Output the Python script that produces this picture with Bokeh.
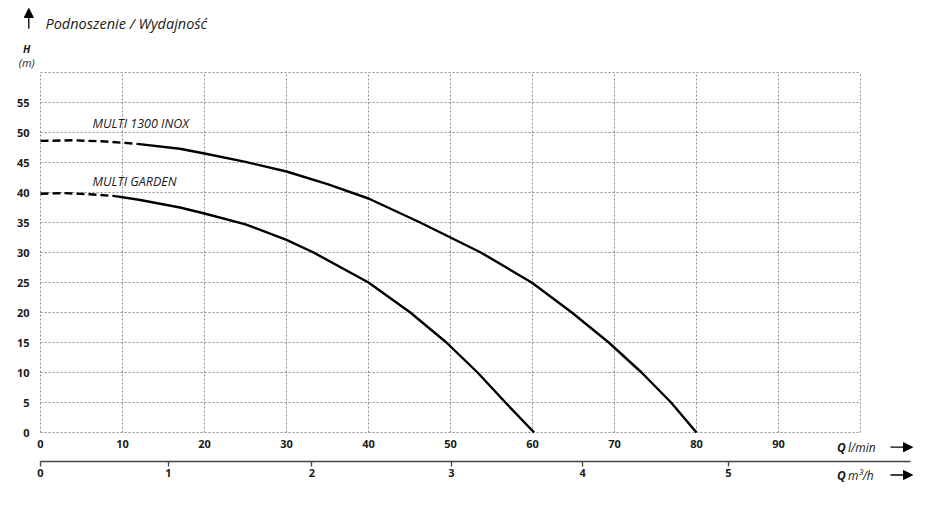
from bokeh.plotting import figure
from bokeh.models import Range1d, LinearAxis, FixedTicker, Label, Arrow, NormalHead
from bokeh.embed import file_html
from bokeh.resources import INLINE

# ---------------- data ----------------
TITLE = "Podnoszenie / Wydajność"
Y_TICKS = [0, 5, 10, 15, 20, 25, 30, 35, 40, 45, 50, 55]
X_TICKS = [0, 10, 20, 30, 40, 50, 60, 70, 80, 90]
GRID_X = [0, 10, 20, 30, 40, 50, 60, 70, 80, 90, 100]
GRID_Y = [0, 5, 10, 15, 20, 25, 30, 35, 40, 45, 50, 55, 60]
M3H_LABELS = ["0", "1", "2", "3", "4", "5"]
M3H_AT_LPM = [0, 15.6, 33.1, 50.1, 66.1, 83.9]   # where each m3/h tick sits on the l/min scale

INOX_NAME = "MULTI 1300 INOX"
INOX_Q_EXTRAP = [0, 4, 8, 11.8]
INOX_H_EXTRAP = [48.6, 48.7, 48.5, 48.1]
INOX_Q = [11.8, 17, 20, 25, 30, 35, 40, 46.3, 53.7, 59.9, 64.8, 69.3, 73.3, 76.9, 80]
INOX_H = [48.1, 47.3, 46.5, 45.1, 43.5, 41.4, 39.0, 35, 30, 25, 20, 15, 10, 5, 0]

GARDEN_NAME = "MULTI GARDEN"
GARDEN_Q_EXTRAP = [0, 3, 6, 9.1]
GARDEN_H_EXTRAP = [39.8, 39.9, 39.7, 39.4]
GARDEN_Q = [9.1, 12, 17, 20, 25, 30, 33.3, 40, 45.1, 49.5, 53.3, 56.7, 60.2]
GARDEN_H = [39.4, 38.8, 37.5, 36.5, 34.7, 32.1, 30, 25, 20, 15, 10, 5, 0]

# ---------------- layout (page pixels) ----------------
W, H = 920, 500
X0_PX, Y0_PX = 40, 432        # where Q=0, H=0 sits
PX_PER_Q, PX_PER_H = 8.2, 6.0


def qx(px):
    return (px - X0_PX) / PX_PER_Q


def hy(py):
    return (Y0_PX - py) / PX_PER_H


FONT = "Open Sans"
TXT = "#1a1a1a"
GRID_C = "#8f8f8f"

p = figure(width=W, height=H,
           x_range=Range1d(qx(0), qx(W)), y_range=Range1d(hy(H), hy(0)),
           x_axis_type=None, y_axis_type=None,
           output_backend="svg", toolbar_location=None,
           min_border=0, min_border_left=0, min_border_right=0,
           min_border_top=0, min_border_bottom=0)
p.outline_line_color = None
p.background_fill_color = "white"
p.border_fill_color = "white"

# dotted grid box (0..100 x 0..60)
xmax = GRID_X[-1]
ymax = GRID_Y[-1]
p.segment(x0=GRID_X, y0=[0] * len(GRID_X), x1=GRID_X, y1=[ymax] * len(GRID_X),
          line_color=GRID_C, line_width=1, line_dash="2 2")
p.segment(x0=[0] * len(GRID_Y), y0=GRID_Y, x1=[xmax] * len(GRID_Y), y1=GRID_Y,
          line_color=GRID_C, line_width=1, line_dash="2 2")

# curves
for q, h, dash in ((INOX_Q_EXTRAP, INOX_H_EXTRAP, "8 4"), (INOX_Q, INOX_H, "solid"),
                   (GARDEN_Q_EXTRAP, GARDEN_H_EXTRAP, "8 4"), (GARDEN_Q, GARDEN_H, "solid")):
    p.line(q, h, line_color="black", line_width=2.4, line_dash=dash, line_join="round")

# axes (drawn at fixed data locations)
yax = LinearAxis(ticker=FixedTicker(ticks=Y_TICKS), fixed_location=0,
                 axis_line_color=None, major_tick_line_color=None, minor_tick_line_color=None,
                 major_tick_out=0, major_tick_in=0, major_label_standoff=11,
                 major_label_text_font=FONT, major_label_text_font_style="bold",
                 major_label_text_font_size="11px", major_label_text_color=TXT)
p.add_layout(yax, "left")

xax = LinearAxis(ticker=FixedTicker(ticks=X_TICKS), fixed_location=0,
                 axis_line_color=None, major_tick_line_color=None, minor_tick_line_color=None,
                 major_tick_out=0, major_tick_in=0, major_label_standoff=7,
                 major_label_text_font=FONT, major_label_text_font_style="bold",
                 major_label_text_font_size="11px", major_label_text_color=TXT)
p.add_layout(xax, "below")

m3ax = LinearAxis(ticker=FixedTicker(ticks=M3H_AT_LPM), fixed_location=hy(460.7),
                  bounds=(0, qx(910)),
                  major_label_overrides={t: l for t, l in zip(M3H_AT_LPM, M3H_LABELS)},
                  axis_line_color="#444444", axis_line_width=1.3,
                  major_tick_line_color="#444444", major_tick_line_width=1.3,
                  minor_tick_line_color=None,
                  major_tick_out=5, major_tick_in=0, major_label_standoff=3,
                  major_label_text_font=FONT, major_label_text_font_style="bold",
                  major_label_text_font_size="11px", major_label_text_color=TXT)
p.add_layout(m3ax, "below")


# texts
def lab(px, py, text, size, style="italic", align="left"):
    p.add_layout(Label(x=qx(px), y=hy(py), text=text, text_font=FONT, text_font_style=style,
                       text_font_size=size, text_color=TXT,
                       text_align=align, text_baseline="middle"))


lab(45, 22.5, TITLE, "14.5px")
lab(26.3, 48.3, "H", "10.5px", "bold italic", "center")
lab(26.2, 62, "(m)", "11px", "italic", "center")
lab(92, 122.5, INOX_NAME, "12.5px")
lab(92, 181, GARDEN_NAME, "12.5px")
lab(836.5, 446.7, "Q", "12px", "bold italic")
lab(847.5, 446.7, "l/min", "12px")
lab(836.5, 475, "Q", "12px", "bold italic")
lab(847.5, 475, "m³/h", "12px")


# arrows
def arrow(px0, py0, px1, py1):
    p.add_layout(Arrow(end=NormalHead(size=9, fill_color="black", line_color="black"),
                       x_start=qx(px0), y_start=hy(py0), x_end=qx(px1), y_end=hy(py1),
                       line_color="black", line_width=1.3))


arrow(28.3, 28.3, 28.3, 8.0)
arrow(890, 446.7, 912, 446.7)
arrow(890, 474.5, 912, 474.5)

open("out.html", "w").write(file_html(p, INLINE))
